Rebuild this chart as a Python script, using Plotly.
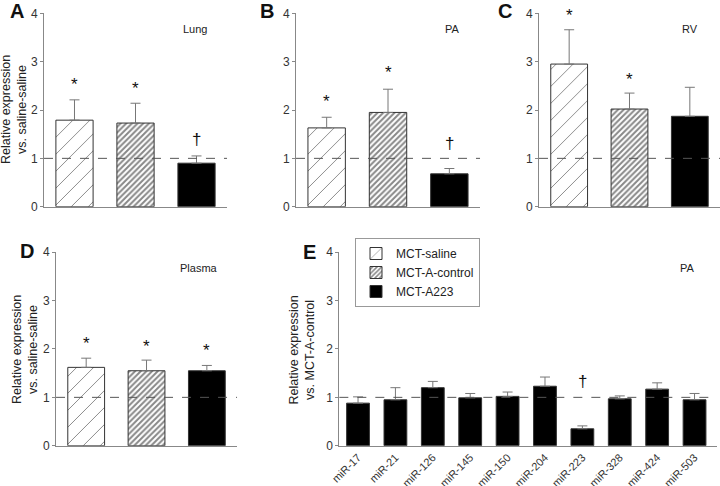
import plotly.graph_objects as go

groups = ["MCT-saline", "MCT-A-control", "MCT-A223"]

lung_vals = [1.79, 1.73, 0.90]
lung_err = [2.21, 2.14, 1.05]
pa_vals = [1.63, 1.95, 0.68]
pa_err = [1.85, 2.43, 0.79]
rv_vals = [2.95, 2.02, 1.87]
rv_err = [3.66, 2.35, 2.47]
plasma_vals = [1.62, 1.55, 1.55]
plasma_err = [1.81, 1.77, 1.66]

mirnas = ["miR-17", "miR-21", "miR-126", "miR-145", "miR-150",
          "miR-204", "miR-223", "miR-328", "miR-424", "miR-503"]
mir_vals = [0.88, 0.95, 1.20, 0.99, 1.02, 1.23, 0.35, 0.97, 1.17, 0.95]
mir_err = [1.01, 1.20, 1.33, 1.08, 1.11, 1.42, 0.41, 1.03, 1.30, 1.08]

# significance marks and their heights
lung_marks = ["*", "*", "†"]
lung_mark_y = [2.52, 2.45, 1.38]
pa_marks = ["*", "*", "†"]
pa_mark_y = [2.17, 2.77, 1.31]
rv_marks = ["*", "*", ""]
rv_mark_y = [3.96, 2.64, 0]
plasma_marks = ["*", "*", "*"]
plasma_mark_y = [2.12, 2.06, 1.96]

FONT = "Liberation Sans, Arial, sans-serif"
styles = [
    dict(color="white", pattern=dict(shape="/", size=12, solidity=0.08, fgcolor="#111", bgcolor="white")),
    dict(color="white", pattern=dict(shape="/", size=4, solidity=0.5, fgcolor="#111", bgcolor="white")),
    dict(color="black"),
]

fig = go.Figure()

panels = [
    ("x", "y", lung_vals, lung_err, lung_marks, lung_mark_y, [0.0611, 0.3153], [0.5747, 0.9726]),
    ("x2", "y2", pa_vals, pa_err, pa_marks, pa_mark_y, [0.4111, 0.6667], [0.5747, 0.9726]),
    ("x3", "y3", rv_vals, rv_err, rv_marks, rv_mark_y, [0.7486, 1.0], [0.5747, 0.9726]),
    ("x4", "y4", plasma_vals, plasma_err, plasma_marks, plasma_mark_y, [0.0778, 0.3292], [0.0829, 0.4809]),
]

annotations = []
for pi, (xa, ya, vals, errs, marks, marky, xd, yd) in enumerate(panels):
    for i in range(3):
        st = styles[i]
        marker = dict(color=st["color"], line=dict(color="#333", width=1))
        if "pattern" in st:
            marker["pattern"] = st["pattern"]
        fig.add_trace(go.Bar(
            x=[i], y=[vals[i]], width=0.61, xaxis=xa, yaxis=ya,
            name=groups[i], legendgroup=groups[i], showlegend=(pi == 0),
            marker=marker,
            error_y=dict(type="data", symmetric=False, array=[errs[i] - vals[i]],
                         arrayminus=[0], color="#777", thickness=1, width=5),
        ))
        if marks[i]:
            annotations.append(dict(x=i, y=marky[i], xref=xa, yref=ya, text=marks[i],
                                    xanchor="center", yanchor="middle",
                                    showarrow=False, font=dict(size=17, color="#111", family=FONT)))

fig.add_trace(go.Bar(
    x=list(range(len(mirnas))), y=mir_vals, width=0.61, xaxis="x5", yaxis="y5",
    showlegend=False, marker=dict(color="black", line=dict(color="#333", width=1)),
    error_y=dict(type="data", symmetric=False, array=[e - v for e, v in zip(mir_err, mir_vals)],
                 arrayminus=[0] * len(mirnas), color="#777", thickness=1, width=5),
))
annotations.append(dict(x=6, y=1.32, xref="x5", yref="y5", text="†", showarrow=False,
                        xanchor="center", yanchor="middle",
                        font=dict(size=17, color="#111", family=FONT)))

axis_common = dict(showgrid=False, zeroline=False, linecolor="#888", linewidth=1, automargin=False,
                   tickfont=dict(size=12, color="#333", family=FONT))
layout = dict(
    width=720, height=486, margin=dict(l=0, r=0, t=0, b=0, autoexpand=False),
    paper_bgcolor="white", plot_bgcolor="white", barmode="overlay",
    font=dict(family=FONT, color="#222"),
    showlegend=True,
    legend=dict(x=355 / 720, y=(486 - 238) / 486, xanchor="left", yanchor="top",
                bordercolor="#999", borderwidth=1, bgcolor="white",
                font=dict(size=12, color="#222", family=FONT), tracegroupgap=0,
                itemwidth=30),
)
domains = [p[6:8] for p in panels] + [([0.4713, 0.9958], [0.0829, 0.4809])]
for k, (xd, yd) in enumerate(domains):
    sfx = "" if k == 0 else str(k + 1)
    xa = dict(axis_common, domain=xd, anchor="y" + sfx, range=[-0.5, 2.5 if k < 4 else 9.6],
              showticklabels=False, ticks="")
    if k == 4:
        xa.update(showticklabels=True, tickmode="array", tickvals=list(range(len(mirnas))),
                  ticktext=mirnas, tickangle=-45, tickfont=dict(size=11, color="#333", family=FONT))
    ya = dict(axis_common, domain=yd, anchor="x" + sfx, range=[0, 4],
              tickvals=[0, 1, 2, 3, 4], ticks="outside", ticklen=3, tickcolor="#888")
    layout["xaxis" + sfx] = xa
    layout["yaxis" + sfx] = ya
fig.update_layout(**layout)

for k in range(5):
    sfx = "" if k == 0 else str(k + 1)
    fig.add_shape(type="line", xref=("x" + sfx + " domain"), yref="y" + sfx,
                  x0=0, x1=1, y0=1, y1=1, line=dict(color="#555", width=1, dash="dash"),
                  layer="above")

# panel letters
for txt, px, py in [("A", 16.5, 11), ("B", 266.5, 11), ("C", 505, 11), ("D", 27, 251), ("E", 309, 252)]:
    annotations.append(dict(x=px / 720, y=1 - py / 486, xref="paper", yref="paper", text="<b>" + txt + "</b>",
                            xanchor="center", yanchor="middle",
                            showarrow=False, font=dict(size=20, color="#111", family=FONT)))
# tissue labels
for txt, px, py in [("Lung", 195, 29), ("PA", 452, 29), ("RV", 690, 29), ("Plasma", 199, 268), ("PA", 687, 268)]:
    annotations.append(dict(x=px / 720, y=1 - py / 486, xref="paper", yref="paper", text=txt,
                            xanchor="center", yanchor="middle",
                            showarrow=False, font=dict(size=11, color="#222", family=FONT)))
# y-axis titles
for txt, px, py in [("Relative expression<br>vs. saline-saline", 14, 110),
                    ("Relative expression<br>vs. saline-saline", 25, 350),
                    ("Relative expression<br>vs. MCT-A-control", 301.5, 350)]:
    annotations.append(dict(x=px / 720, y=1 - py / 486, xref="paper", yref="paper", text=txt,
                            textangle=-90, showarrow=False, xanchor="center", yanchor="middle",
                            font=dict(size=12.5, color="#222", family=FONT)))

fig.update_layout(annotations=annotations)
fig.write_html("out.html", config={"displayModeBar": False},
               post_script="document.body.style.margin='0';")
